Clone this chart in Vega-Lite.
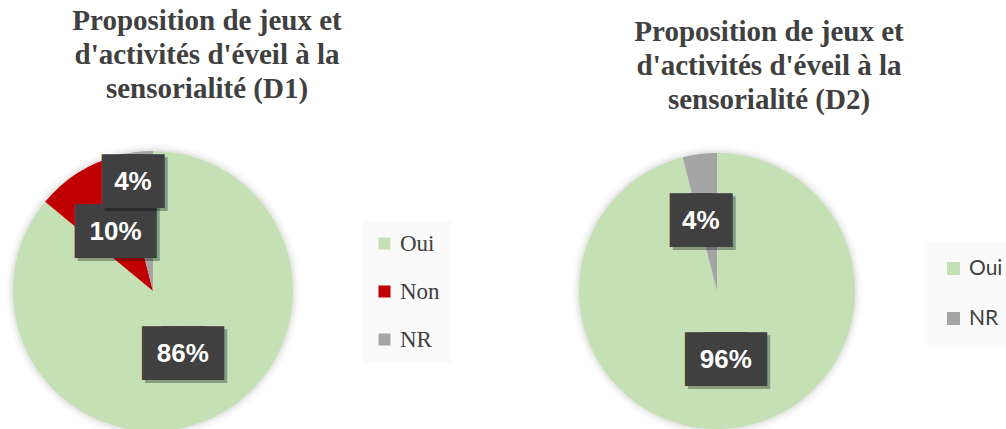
{
  "$schema": "https://vega.github.io/schema/vega-lite/v6.json",
  "background": "white",
  "padding": {"left": 6, "top": 7, "right": 0, "bottom": 0},
  "config": {"view": {"stroke": null}, "concat": {"spacing": 121}},
  "resolve": {"scale": {"color": "independent", "theta": "independent"}, "legend": {"color": "independent"}},
  "hconcat": [
    {
      "width": 280, "height": 280,
      "title": {"text": ["Proposition de jeux et", "d'activités d'éveil à la", "sensorialité (D1)"], "font": "Liberation Serif", "fontSize": 29, "fontWeight": "bold", "color": "#404040", "lineHeight": 34, "dx": 54, "offset": 40, "anchor": "middle"},
      "data": {"values": [
        {"reponse": "Oui", "part": 0.86},
        {"reponse": "Non", "part": 0.10},
        {"reponse": "NR", "part": 0.04}
      ]},
      "encoding": {
        "theta": {"field": "part", "type": "quantitative", "stack": true},
        "order": {"field": "part", "sort": "descending"}
      },
      "layer": [
        {"mark": {"type": "arc", "outerRadius": 147, "color": "#000", "opacity": 0.025}},
        {"mark": {"type": "arc", "outerRadius": 144, "color": "#000", "opacity": 0.03}},
        {"mark": {"type": "arc", "outerRadius": 142, "color": "#000", "opacity": 0.04}},
        {
          "mark": {"type": "arc", "outerRadius": 140},
          "encoding": {
            "color": {"field": "reponse", "type": "nominal",
              "scale": {"domain": ["Oui", "Non", "NR"], "range": ["#c5e0b4", "#c00000", "#a5a5a5"]},
              "legend": {"title": null, "orient": "none", "legendX": 349, "legendY": 70, "padding": 11, "fillColor": "#fafafa", "symbolType": "square", "symbolSize": 144, "symbolStrokeWidth": 0, "labelFont": "Liberation Serif", "labelFontSize": 23, "labelColor": "#404040", "rowPadding": 24, "labelOffset": 4}}
          }
        },
        {
          "mark": {"type": "text", "radius": 70, "font": "DejaVu Sans", "fontSize": 25, "baseline": "alphabetic", "dx": 3, "dy": 11, "color": "#000", "stroke": "#000", "strokeWidth": 24, "strokeJoin": "miter"},
          "encoding": {
            "text": {"condition": {"test": "datum.part >= 0.1", "value": "███"}, "value": "██"},
            "opacity": {"condition": {"test": "datum.reponse !== 'NR'", "value": 0.3}, "value": 0}
          }
        },
        {
          "mark": {"type": "text", "radius": 70, "font": "DejaVu Sans", "fontSize": 25, "baseline": "alphabetic", "dy": 8, "color": "#404040", "stroke": "#404040", "strokeWidth": 24, "strokeJoin": "miter"},
          "encoding": {
            "text": {"condition": {"test": "datum.part >= 0.1", "value": "███"}, "value": "██"},
            "opacity": {"condition": {"test": "datum.reponse !== 'NR'", "value": 1}, "value": 0}
          }
        },
        {
          "mark": {"type": "text", "radius": 70, "font": "Liberation Sans", "fontSize": 26, "fontWeight": "bold", "color": "white", "baseline": "middle"},
          "encoding": {
            "text": {"field": "part", "type": "quantitative", "format": ".0%"},
            "opacity": {"condition": {"test": "datum.reponse !== 'NR'", "value": 1}, "value": 0}
          }
        },
        {
          "mark": {"type": "text", "radius": 111, "thetaOffset": -0.056, "font": "DejaVu Sans", "fontSize": 25, "baseline": "alphabetic", "dx": 3, "dy": 11, "color": "#000", "stroke": "#000", "strokeWidth": 24, "strokeJoin": "miter"},
          "encoding": {
            "text": {"condition": {"test": "datum.part >= 0.1", "value": "███"}, "value": "██"},
            "opacity": {"condition": {"test": "datum.reponse === 'NR'", "value": 0.3}, "value": 0}
          }
        },
        {
          "mark": {"type": "text", "radius": 111, "thetaOffset": -0.056, "font": "DejaVu Sans", "fontSize": 25, "baseline": "alphabetic", "dy": 8, "color": "#404040", "stroke": "#404040", "strokeWidth": 24, "strokeJoin": "miter"},
          "encoding": {
            "text": {"condition": {"test": "datum.part >= 0.1", "value": "███"}, "value": "██"},
            "opacity": {"condition": {"test": "datum.reponse === 'NR'", "value": 1}, "value": 0}
          }
        },
        {
          "mark": {"type": "text", "radius": 111, "thetaOffset": -0.056, "font": "Liberation Sans", "fontSize": 26, "fontWeight": "bold", "color": "white", "baseline": "middle"},
          "encoding": {
            "text": {"field": "part", "type": "quantitative", "format": ".0%"},
            "opacity": {"condition": {"test": "datum.reponse === 'NR'", "value": 1}, "value": 0}
          }
        }
      ]
    },
    {
      "width": 280, "height": 280,
      "title": {"text": ["Proposition de jeux et", "d'activités d'éveil à la", "sensorialité (D2)"], "font": "Liberation Serif", "fontSize": 29, "fontWeight": "bold", "color": "#404040", "lineHeight": 34, "dx": 52, "offset": 31, "anchor": "middle"},
      "data": {"values": [
        {"reponse": "Oui", "part": 0.96},
        {"reponse": "NR", "part": 0.04}
      ]},
      "encoding": {
        "theta": {"field": "part", "type": "quantitative", "stack": true},
        "order": {"field": "part", "sort": "descending"}
      },
      "layer": [
        {"mark": {"type": "arc", "outerRadius": 145, "color": "#000", "opacity": 0.025}},
        {"mark": {"type": "arc", "outerRadius": 142, "color": "#000", "opacity": 0.03}},
        {"mark": {"type": "arc", "outerRadius": 140, "color": "#000", "opacity": 0.04}},
        {
          "mark": {"type": "arc", "outerRadius": 138},
          "encoding": {
            "color": {"field": "reponse", "type": "nominal",
              "scale": {"domain": ["Oui", "NR"], "range": ["#c5e0b4", "#a5a5a5"]},
              "legend": {"title": null, "orient": "none", "legendX": 350, "legendY": 91, "padding": 16, "fillColor": "#fafafa", "symbolType": "square", "symbolSize": 169, "symbolStrokeWidth": 0, "labelFont": "Lato", "labelFontSize": 21, "labelColor": "#404040", "rowPadding": 28, "labelOffset": 5}}
          }
        },
        {
          "mark": {"type": "text", "radius": 70, "font": "DejaVu Sans", "fontSize": 25, "baseline": "alphabetic", "dx": 3, "dy": 11, "color": "#000", "stroke": "#000", "strokeWidth": 24, "strokeJoin": "miter"},
          "encoding": {
            "text": {"condition": {"test": "datum.part >= 0.1", "value": "███"}, "value": "██"},
            "opacity": {"condition": {"test": "datum.reponse !== 'NR'", "value": 0.3}, "value": 0}
          }
        },
        {
          "mark": {"type": "text", "radius": 70, "font": "DejaVu Sans", "fontSize": 25, "baseline": "alphabetic", "dy": 8, "color": "#404040", "stroke": "#404040", "strokeWidth": 24, "strokeJoin": "miter"},
          "encoding": {
            "text": {"condition": {"test": "datum.part >= 0.1", "value": "███"}, "value": "██"},
            "opacity": {"condition": {"test": "datum.reponse !== 'NR'", "value": 1}, "value": 0}
          }
        },
        {
          "mark": {"type": "text", "radius": 70, "font": "Liberation Sans", "fontSize": 26, "fontWeight": "bold", "color": "white", "baseline": "middle"},
          "encoding": {
            "text": {"field": "part", "type": "quantitative", "format": ".0%"},
            "opacity": {"condition": {"test": "datum.reponse !== 'NR'", "value": 1}, "value": 0}
          }
        },
        {
          "mark": {"type": "text", "radius": 72, "thetaOffset": -0.1, "font": "DejaVu Sans", "fontSize": 25, "baseline": "alphabetic", "dx": 3, "dy": 11, "color": "#000", "stroke": "#000", "strokeWidth": 24, "strokeJoin": "miter"},
          "encoding": {
            "text": {"condition": {"test": "datum.part >= 0.1", "value": "███"}, "value": "██"},
            "opacity": {"condition": {"test": "datum.reponse === 'NR'", "value": 0.3}, "value": 0}
          }
        },
        {
          "mark": {"type": "text", "radius": 72, "thetaOffset": -0.1, "font": "DejaVu Sans", "fontSize": 25, "baseline": "alphabetic", "dy": 8, "color": "#404040", "stroke": "#404040", "strokeWidth": 24, "strokeJoin": "miter"},
          "encoding": {
            "text": {"condition": {"test": "datum.part >= 0.1", "value": "███"}, "value": "██"},
            "opacity": {"condition": {"test": "datum.reponse === 'NR'", "value": 1}, "value": 0}
          }
        },
        {
          "mark": {"type": "text", "radius": 72, "thetaOffset": -0.1, "font": "Liberation Sans", "fontSize": 26, "fontWeight": "bold", "color": "white", "baseline": "middle"},
          "encoding": {
            "text": {"field": "part", "type": "quantitative", "format": ".0%"},
            "opacity": {"condition": {"test": "datum.reponse === 'NR'", "value": 1}, "value": 0}
          }
        }
      ]
    }
  ]
}
